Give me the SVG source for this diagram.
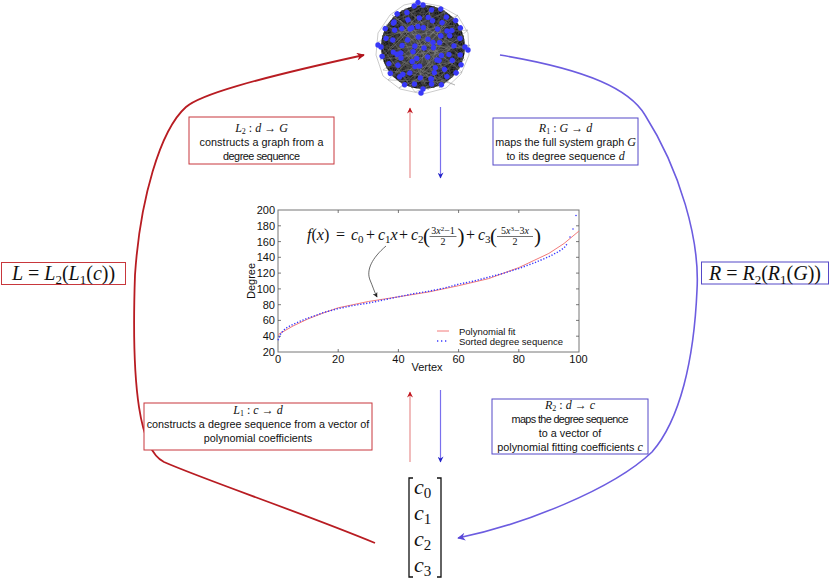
<svg xmlns="http://www.w3.org/2000/svg" xmlns:xlink="http://www.w3.org/1999/xlink" width="830" height="586" viewBox="0 0 830 586">
<style>
.sans{font-family:"Liberation Sans","DejaVu Sans",sans-serif;}
.bt{font-family:"Liberation Sans","DejaVu Sans",sans-serif;font-size:10.8px;fill:#111;text-anchor:middle;}
.m{font-family:"Liberation Serif","DejaVu Serif",serif;font-style:italic;}
.r{font-family:"Liberation Serif","DejaVu Serif",serif;font-style:normal;}
.bm{font-family:"Liberation Serif","DejaVu Serif",serif;font-size:12px;fill:#111;text-anchor:middle;}
.rbox{fill:#fff;stroke:#c8373c;stroke-width:1;}
.bbox{fill:#fff;stroke:#5548c8;stroke-width:1;}
.tick{font-family:"Liberation Sans","DejaVu Sans",sans-serif;font-size:11px;fill:#111;}
.fm{font-family:"Liberation Serif","DejaVu Serif",serif;font-size:16px;fill:#111;}
.nd{fill:#3838f8;}
</style>
<defs>
<marker id="ar" viewBox="0 0 10 10" refX="9" refY="5" markerWidth="11" markerHeight="8" markerUnits="userSpaceOnUse" orient="auto"><path d="M0,0 L10,5 L0,10 L3,5 z" fill="#b0141c"/></marker>
<marker id="ab" viewBox="0 0 10 10" refX="9" refY="5" markerWidth="11" markerHeight="8" markerUnits="userSpaceOnUse" orient="auto"><path d="M0,0 L10,5 L0,10 L3,5 z" fill="#5a48d8"/></marker>
<marker id="sr" viewBox="0 0 10 10" refX="9" refY="5" markerWidth="7" markerHeight="6" markerUnits="userSpaceOnUse" orient="auto"><path d="M0,0 L10,5 L0,10 L3,5 z" fill="#c0141c"/></marker>
<marker id="sb" viewBox="0 0 10 10" refX="9" refY="5" markerWidth="7" markerHeight="6" markerUnits="userSpaceOnUse" orient="auto"><path d="M0,0 L10,5 L0,10 L3,5 z" fill="#2222c8"/></marker>
<marker id="ak" viewBox="0 0 10 10" refX="9" refY="5" markerWidth="6" markerHeight="5" markerUnits="userSpaceOnUse" orient="auto"><path d="M0,0 L10,5 L0,10 L3,5 z" fill="#222"/></marker>
<g id="ch"><path d="M423,5 L450,14.8 M423,5 L463.6,36.1 M423,5 L462.5,61.4 M423,5 L444,83.4 M423,5 L423,89 M423,15 L445,55 M423,15 L400,70 M423,25 L440,80 M423,5 L398,80 M423,9 L431,60 M423,20 L452,38"/></g>
<circle id="n1" cx="423" cy="5" r="2.7"/>
<circle id="n1b" cx="423" cy="9" r="2.7"/>
<circle id="n2" cx="423" cy="16" r="2.7"/>
<circle id="n3" cx="423" cy="26" r="2.7"/>
<circle id="n4" cx="423" cy="36" r="2.7"/>
</defs>

<g id="graph-G">
<circle cx="423" cy="47" r="42" fill="#141414"/>
<polygon points="418,2 440,6 458,16 468,33 469,55 461,74 446,88 423,94 400,89 383,76 376,55 378,33 390,15 404,5" fill="none" stroke="#a8a8a8" stroke-width="0.6"/>
<g stroke="#4c4c4c" stroke-width="0.45" fill="none">
<use xlink:href="#ch"/><use xlink:href="#ch" transform="rotate(15 423 47)"/><use xlink:href="#ch" transform="rotate(30 423 47)"/><use xlink:href="#ch" transform="rotate(45 423 47)"/><use xlink:href="#ch" transform="rotate(60 423 47)"/><use xlink:href="#ch" transform="rotate(75 423 47)"/><use xlink:href="#ch" transform="rotate(90 423 47)"/><use xlink:href="#ch" transform="rotate(105 423 47)"/><use xlink:href="#ch" transform="rotate(120 423 47)"/><use xlink:href="#ch" transform="rotate(135 423 47)"/><use xlink:href="#ch" transform="rotate(150 423 47)"/><use xlink:href="#ch" transform="rotate(165 423 47)"/><use xlink:href="#ch" transform="rotate(180 423 47)"/><use xlink:href="#ch" transform="rotate(195 423 47)"/><use xlink:href="#ch" transform="rotate(210 423 47)"/><use xlink:href="#ch" transform="rotate(225 423 47)"/><use xlink:href="#ch" transform="rotate(240 423 47)"/><use xlink:href="#ch" transform="rotate(255 423 47)"/><use xlink:href="#ch" transform="rotate(270 423 47)"/><use xlink:href="#ch" transform="rotate(285 423 47)"/><use xlink:href="#ch" transform="rotate(300 423 47)"/><use xlink:href="#ch" transform="rotate(315 423 47)"/><use xlink:href="#ch" transform="rotate(330 423 47)"/><use xlink:href="#ch" transform="rotate(345 423 47)"/>
</g>
<polyline fill="none" stroke="#8c8c8c" stroke-width="0.4" points="400,20 445,70 410,85 460,40 390,50 430,10 420,75 455,25 385,35 440,88 405,8 465,60 395,72 435,30 412,60 450,50 398,28 428,90 470,45 380,60 418,15 448,82 388,80 458,15 402,45 438,52 425,38 392,15 462,72 415,92 378,42 445,12 432,65 408,35 468,30 399,88 452,62 386,25 426,5 440,40 410,70 455,85 395,58 420,55 447,22 383,70 435,78 405,18 463,48 412,45 400,20"/>
<g class="nd">
<use xlink:href="#n1"/><use xlink:href="#n1b" transform="rotate(13 423 47)"/><use xlink:href="#n1" transform="rotate(25 423 47)"/><use xlink:href="#n1b" transform="rotate(38 423 47)"/><use xlink:href="#n1" transform="rotate(51 423 47)"/><use xlink:href="#n1" transform="rotate(63 423 47)"/><use xlink:href="#n1b" transform="rotate(77 423 47)"/><use xlink:href="#n1" transform="rotate(90 423 47)"/><use xlink:href="#n1b" transform="rotate(102 423 47)"/><use xlink:href="#n1" transform="rotate(115 423 47)"/><use xlink:href="#n1" transform="rotate(128 423 47)"/><use xlink:href="#n1b" transform="rotate(141 423 47)"/><use xlink:href="#n1" transform="rotate(154 423 47)"/><use xlink:href="#n1b" transform="rotate(167 423 47)"/><use xlink:href="#n1" transform="rotate(180 423 47)"/><use xlink:href="#n1b" transform="rotate(193 423 47)"/><use xlink:href="#n1" transform="rotate(206 423 47)"/><use xlink:href="#n1b" transform="rotate(218 423 47)"/><use xlink:href="#n1" transform="rotate(231 423 47)"/><use xlink:href="#n1b" transform="rotate(244 423 47)"/><use xlink:href="#n1" transform="rotate(257 423 47)"/><use xlink:href="#n1" transform="rotate(270 423 47)"/><use xlink:href="#n1b" transform="rotate(283 423 47)"/><use xlink:href="#n1" transform="rotate(296 423 47)"/><use xlink:href="#n1b" transform="rotate(309 423 47)"/><use xlink:href="#n1" transform="rotate(322 423 47)"/><use xlink:href="#n1b" transform="rotate(335 423 47)"/><use xlink:href="#n1" transform="rotate(348 423 47)"/>
<use xlink:href="#n2" transform="rotate(6 423 47) translate(2,1)"/><use xlink:href="#n2" transform="rotate(22 423 47) translate(-1,3)"/><use xlink:href="#n2" transform="rotate(38 423 47)"/><use xlink:href="#n2" transform="rotate(55 423 47) translate(3,-2)"/><use xlink:href="#n2" transform="rotate(71 423 47) translate(-2,2)"/><use xlink:href="#n2" transform="rotate(88 423 47)"/><use xlink:href="#n2" transform="rotate(104 423 47) translate(1,4)"/><use xlink:href="#n2" transform="rotate(120 423 47) translate(-3,-1)"/><use xlink:href="#n2" transform="rotate(136 423 47)"/><use xlink:href="#n2" transform="rotate(152 423 47) translate(2,3)"/><use xlink:href="#n2" transform="rotate(169 423 47) translate(-2,-2)"/><use xlink:href="#n2" transform="rotate(185 423 47)"/><use xlink:href="#n2" transform="rotate(201 423 47) translate(3,2)"/><use xlink:href="#n2" transform="rotate(218 423 47) translate(-1,-3)"/><use xlink:href="#n2" transform="rotate(234 423 47)"/><use xlink:href="#n2" transform="rotate(250 423 47) translate(2,4)"/><use xlink:href="#n2" transform="rotate(266 423 47) translate(-3,1)"/><use xlink:href="#n2" transform="rotate(283 423 47)"/><use xlink:href="#n2" transform="rotate(299 423 47) translate(1,-2)"/><use xlink:href="#n2" transform="rotate(315 423 47) translate(-2,3)"/><use xlink:href="#n2" transform="rotate(331 423 47)"/><use xlink:href="#n2" transform="rotate(347 423 47) translate(3,2)"/>
<use xlink:href="#n3" transform="rotate(10 423 47) translate(-3,2)"/><use xlink:href="#n3" transform="rotate(34 423 47) translate(2,-2)"/><use xlink:href="#n3" transform="rotate(58 423 47)"/><use xlink:href="#n3" transform="rotate(82 423 47) translate(-2,4)"/><use xlink:href="#n3" transform="rotate(106 423 47) translate(3,1)"/><use xlink:href="#n3" transform="rotate(130 423 47)"/><use xlink:href="#n3" transform="rotate(154 423 47) translate(-2,-3)"/><use xlink:href="#n3" transform="rotate(178 423 47) translate(4,2)"/><use xlink:href="#n3" transform="rotate(202 423 47)"/><use xlink:href="#n3" transform="rotate(226 423 47) translate(-3,3)"/><use xlink:href="#n3" transform="rotate(250 423 47) translate(2,-2)"/><use xlink:href="#n3" transform="rotate(274 423 47)"/><use xlink:href="#n3" transform="rotate(298 423 47) translate(-1,4)"/><use xlink:href="#n3" transform="rotate(322 423 47) translate(3,-1)"/><use xlink:href="#n3" transform="rotate(346 423 47)"/>
<use xlink:href="#n4" transform="rotate(20 423 47) translate(2,2)"/><use xlink:href="#n4" transform="rotate(65 423 47)"/><use xlink:href="#n4" transform="rotate(110 423 47) translate(-3,1)"/><use xlink:href="#n4" transform="rotate(155 423 47)"/><use xlink:href="#n4" transform="rotate(200 423 47) translate(2,-2)"/><use xlink:href="#n4" transform="rotate(245 423 47)"/><use xlink:href="#n4" transform="rotate(290 423 47) translate(-2,3)"/><use xlink:href="#n4" transform="rotate(335 423 47)"/>
<circle cx="424" cy="48" r="2.7"/>
<circle cx="418" cy="2.5" r="2.7"/><circle cx="378" cy="45" r="2.7"/><circle cx="468" cy="50" r="2.7"/><circle cx="421" cy="93" r="2.7"/><circle cx="410" cy="29" r="2.7"/><circle cx="437" cy="60" r="2.7"/><circle cx="401" cy="58" r="2.7"/><circle cx="447" cy="31" r="2.7"/><circle cx="431" cy="79" r="2.7"/><circle cx="394" cy="22" r="2.7"/>
</g>
</g>

<g id="connectors" fill="none">
<path d="M375,543 C300,512 205,480 164,462 C140,450 131,390 135,275 C140,200 160,130 186,107 C200,95 250,80 364,55" stroke="#b81c22" stroke-width="1.8" marker-end="url(#ar)"/>
<path d="M500,55 C590,70 630,90 645,115 C680,170 700,240 697,290 C694,360 680,420 652,452 C612,490 522,525 458,538" stroke="#6c5ce0" stroke-width="1.6" marker-end="url(#ab)"/>
<path d="M410,178 L410,108" stroke="#eca6a6" stroke-width="1.5" marker-end="url(#sr)"/>
<path d="M440.5,107 L440.5,178" stroke="#7a70ee" stroke-width="1.2" marker-end="url(#sb)"/>
<path d="M410,462 L410,392" stroke="#eca6a6" stroke-width="1.5" marker-end="url(#sr)"/>
<path d="M440.5,390 L440.5,462" stroke="#7a70ee" stroke-width="1.2" marker-end="url(#sb)"/>
</g>

<g id="box-L2">
<rect class="rbox" x="189" y="117" width="145" height="47"/>
<text class="bm" x="261.5" y="131.5"><tspan class="m">L</tspan><tspan font-size="8" dy="2">2</tspan><tspan dy="-2"> : </tspan><tspan class="m">d</tspan> → <tspan class="m">G</tspan></text>
<text class="bt" x="261.5" y="146" textLength="124">constructs a graph from a</text>
<text class="bt" x="261.5" y="160" textLength="77">degree sequence</text>
</g>

<g id="box-R1">
<rect class="bbox" x="493" y="118" width="145" height="47"/>
<text class="bm" x="565.5" y="132"><tspan class="m">R</tspan><tspan font-size="8" dy="2">1</tspan><tspan dy="-2"> : </tspan><tspan class="m">G</tspan> → <tspan class="m">d</tspan></text>
<text class="bt" x="565.5" y="146">maps the full system graph <tspan class="m" font-size="12">G</tspan></text>
<text class="bt" x="565.5" y="160">to its degree sequence <tspan class="m" font-size="12">d</tspan></text>
</g>

<g id="box-L1">
<rect class="rbox" x="144" y="403" width="228" height="47"/>
<text class="bm" x="258" y="413.5"><tspan class="m">L</tspan><tspan font-size="8" dy="2">1</tspan><tspan dy="-2"> : </tspan><tspan class="m">c</tspan> → <tspan class="m">d</tspan></text>
<text class="bt" x="258" y="427.5">constructs a degree sequence from a vector of</text>
<text class="bt" x="258" y="441.5">polynomial coefficients</text>
</g>

<g id="box-R2">
<rect class="bbox" x="492" y="399" width="156" height="55"/>
<text class="bm" x="570" y="409"><tspan class="m">R</tspan><tspan font-size="8" dy="2">2</tspan><tspan dy="-2"> : </tspan><tspan class="m">d</tspan> → <tspan class="m">c</tspan></text>
<text class="bt" x="570" y="423" textLength="117">maps the degree sequence</text>
<text class="bt" x="570" y="437">to a vector of</text>
<text class="bt" x="570" y="451">polynomial fitting coefficients <tspan class="m" font-size="12">c</tspan></text>
</g>

<g id="box-L">
<rect class="rbox" x="1.5" y="262.5" width="124" height="22" stroke-width="1.2"/>
<text x="63.5" y="280" font-size="20" text-anchor="middle" class="r" fill="#111"><tspan class="m">L</tspan> = <tspan class="m">L</tspan><tspan font-size="13" dy="4">2</tspan><tspan dy="-4">(</tspan><tspan class="m">L</tspan><tspan font-size="13" dy="4">1</tspan><tspan dy="-4">(</tspan><tspan class="m">c</tspan>))</text>
</g>

<g id="box-R">
<rect class="bbox" x="701.5" y="262" width="127" height="22" stroke-width="1.2"/>
<text x="765" y="280" font-size="20" text-anchor="middle" class="r" fill="#111"><tspan class="m">R</tspan> = <tspan class="m">R</tspan><tspan font-size="13" dy="4">2</tspan><tspan dy="-4">(</tspan><tspan class="m">R</tspan><tspan font-size="13" dy="4">1</tspan><tspan dy="-4">(</tspan><tspan class="m">G</tspan>))</text>
</g>

<g id="matrix-c">
<path d="M413,478 L409,478 L409,577 L413,577 M437,478 L441,478 L441,577 L437,577" stroke="#111" stroke-width="1.3" fill="none"/>
<g class="r" font-size="22" fill="#111">
<text x="414" y="494"><tspan class="m">c</tspan><tspan font-size="15" dy="4">0</tspan></text>
<text x="414" y="520"><tspan class="m">c</tspan><tspan font-size="15" dy="4">1</tspan></text>
<text x="414" y="546"><tspan class="m">c</tspan><tspan font-size="15" dy="4">2</tspan></text>
<text x="414" y="572"><tspan class="m">c</tspan><tspan font-size="15" dy="4">3</tspan></text>
</g>
</g>

<g id="plot">
<rect x="278" y="210" width="301" height="142" fill="#fff" stroke="#777" stroke-width="1"/>
<g stroke="#555" stroke-width="0.8">
<path d="M278,225.8h3M278,241.6h3M278,257.3h3M278,273.1h3M278,288.9h3M278,304.7h3M278,320.4h3M278,336.2h3M579,225.8h-3M579,241.6h-3M579,257.3h-3M579,273.1h-3M579,288.9h-3M579,304.7h-3M579,320.4h-3M579,336.2h-3"/>
<path d="M338.2,352v-3M398.4,352v-3M458.6,352v-3M518.8,352v-3M338.2,210v3M398.4,210v3M458.6,210v3M518.8,210v3"/>
</g>
<g class="tick" text-anchor="end">
<text x="275" y="214">200</text><text x="275" y="229.8">180</text><text x="275" y="245.6">160</text><text x="275" y="261.3">140</text><text x="275" y="277.1">120</text><text x="275" y="292.9">100</text><text x="275" y="308.7">80</text><text x="275" y="324.4">60</text><text x="275" y="340.2">40</text><text x="275" y="356">20</text>
</g>
<g class="tick" text-anchor="middle">
<text x="278" y="363">0</text><text x="338.2" y="363">20</text><text x="398.4" y="363">40</text><text x="458.6" y="363">60</text><text x="518.8" y="363">80</text><text x="578.5" y="363">100</text>
<text x="427" y="371">Vertex</text>
<text x="0" y="0" transform="translate(255,281) rotate(-90)">Degree</text>
</g>
<polyline fill="none" stroke="#f27a7a" stroke-width="1" points="278,334.6 293,326 308,318.9 323.2,313 338.2,307.8 368.3,301.5 398.4,296.8 428.5,292 458.6,285.7 488.7,278.6 518.8,267.6 548.9,253.4 564,243.5 579,231"/>
<polyline fill="none" stroke="#3a3aff" stroke-width="1.4" stroke-dasharray="1.3 1.7" points="278,340.2 281,333.1 284,329.9 287,327.5 293,324.4 302.1,320.4 308.1,318.1 323.2,312.6 338.2,308.6 353.3,305.5 368.3,303.1 383.4,300 398.4,296.8 413.5,293.7 428.5,291.3 443.6,288.2 458.6,284.2 473.7,281.1 488.7,277.1 503.8,273.2 518.8,268.5 533.9,263 548.9,256.7 557.9,252 564,248 567,244.1"/>
<g fill="#3a3aff"><circle cx="570" cy="237" r="0.8"/><circle cx="573" cy="229" r="0.8"/><circle cx="576" cy="215.5" r="0.8"/></g>
<line x1="437" y1="331" x2="449" y2="331" stroke="#f27a7a" stroke-width="1"/>
<line x1="437" y1="341" x2="449" y2="341" stroke="#3a3aff" stroke-width="1.4" stroke-dasharray="1.3 2.7"/>
<text class="sans" x="459" y="334.5" font-size="9.5" fill="#111">Polynomial fit</text>
<text class="sans" x="459" y="345" font-size="9.5" fill="#111">Sorted degree sequence</text>
<path d="M386,246 C372,258 366,270 370,280 C373,287 374,291 377,297" fill="none" stroke="#444" stroke-width="0.8" marker-end="url(#ak)"/>
<g class="fm">
<text x="307" y="240"><tspan class="m">f</tspan>(<tspan class="m">x</tspan>)</text>
<text x="336" y="240">=</text>
<text x="351" y="240"><tspan class="m">c</tspan><tspan font-size="11" dy="3">0</tspan></text>
<text x="366" y="240">+</text>
<text x="378" y="240"><tspan class="m">c</tspan><tspan font-size="11" dy="3">1</tspan><tspan class="m" dy="-3">x</tspan></text>
<text x="399" y="240">+</text>
<text x="411" y="240"><tspan class="m">c</tspan><tspan font-size="11" dy="3">2</tspan></text>
<text x="423" y="243" font-size="21">(</text>
<text x="443" y="234" font-size="10" text-anchor="middle">3<tspan class="m">x</tspan><tspan font-size="7" dy="-3">2</tspan><tspan dy="3">−1</tspan></text>
<line x1="429.5" y1="236.5" x2="456.5" y2="236.5" stroke="#111" stroke-width="0.6"/>
<text x="443" y="245" font-size="10" text-anchor="middle">2</text>
<text x="457.5" y="243" font-size="21">)</text>
<text x="466" y="240">+</text>
<text x="478" y="240"><tspan class="m">c</tspan><tspan font-size="11" dy="3">3</tspan></text>
<text x="490" y="243" font-size="21">(</text>
<text x="515" y="234" font-size="10" text-anchor="middle">5<tspan class="m">x</tspan><tspan font-size="7" dy="-3">3</tspan><tspan dy="3">−3</tspan><tspan class="m">x</tspan></text>
<line x1="497" y1="236.5" x2="533" y2="236.5" stroke="#111" stroke-width="0.6"/>
<text x="515" y="245" font-size="10" text-anchor="middle">2</text>
<text x="534" y="243" font-size="21">)</text>
</g>
</g>
</svg>
